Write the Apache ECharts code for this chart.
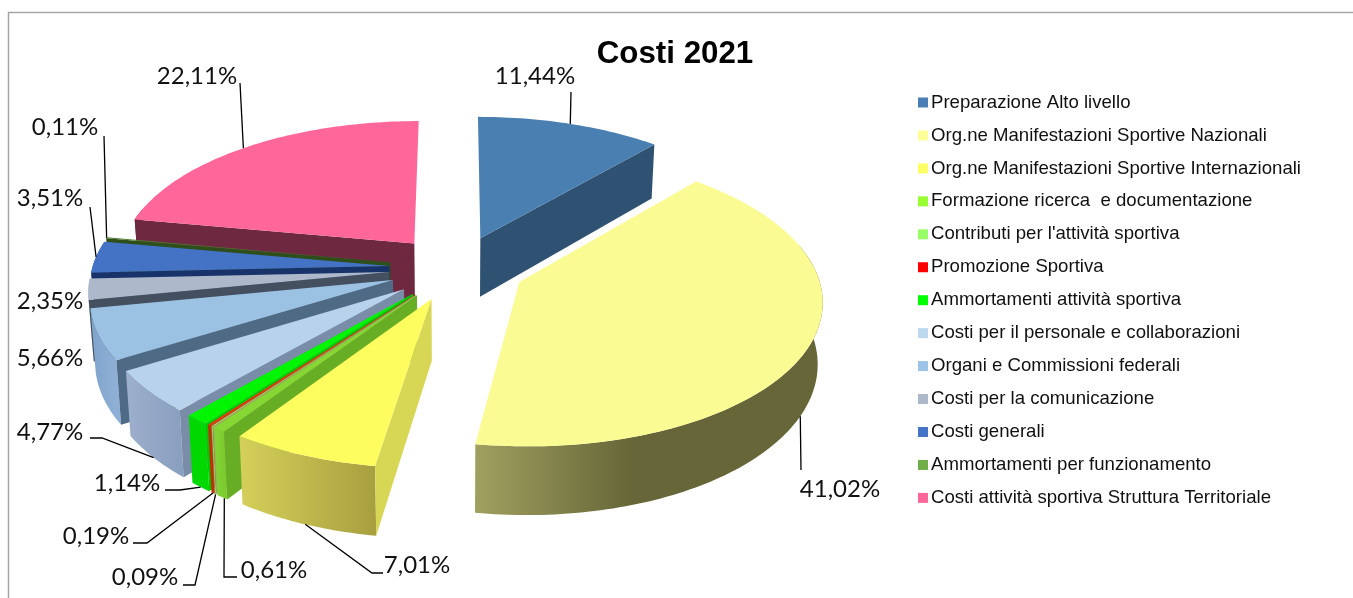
<!DOCTYPE html>
<html>
<head>
<meta charset="utf-8">
<title>Costi 2021</title>
<script src="https://cdn.jsdelivr.net/npm/echarts@6/dist/echarts.min.js"></script>
<style>
  html, body { margin: 0; padding: 0; background: #fff; }
  #main { width: 1353px; height: 598px; }
</style>
</head>
<body>
<div id="main"></div>
<script>
const categories = [
  'Preparazione Alto livello',
  'Org.ne Manifestazioni Sportive Nazionali',
  'Org.ne Manifestazioni Sportive Internazionali',
  'Formazione ricerca  e documentazione',
  "Contributi per l'attività sportiva",
  'Promozione Sportiva',
  'Ammortamenti attività sportiva',
  'Costi per il personale e collaborazioni',
  'Organi e Commissioni federali',
  'Costi per la comunicazione',
  'Costi generali',
  'Ammortamenti per funzionamento',
  'Costi attività sportiva Struttura Territoriale'
]
const values = [11.44, 41.02, 7.01, 0.61, 0.09, 0.19, 1.14, 4.77, 5.66, 2.35, 3.51, 0.11, 22.11]
const valueLabels = ['11,44%', '41,02%', '7,01%', '0,61%', '0,09%', '0,19%', '1,14%', '4,77%', '5,66%', '2,35%', '3,51%', '0,11%', '22,11%']

// colori: legenda, faccia sopra, parete radiale, bordo esterno (sinistra -> destra)
const legendColors = ['#4A7FB5', '#FFFF99', '#FFFF66', '#99FF33', '#99FF66', '#FF0000', '#00FF00', '#BDD7EE', '#9DC3E6', '#ADB9CA', '#4472C4', '#70AD47', '#FF6699']
const topColors = ['#4A7FB2', '#FBFB93', '#FDFD60', '#86D634', '#B5D888', '#E03A10', '#00F500', '#B7D2EA', '#9BC1E3', '#ADB9CA', '#4472C4', '#4F7A30', '#FF6699']
const wallColors = ['#2F5273', '#666638', '#D8D755', '#68AE24', '#8FB060', '#B03000', '#00C800', '#7A8DA8', '#4E6A85', '#44505F', '#17336A', '#2E4E1C', '#6E2840']
const rimLeft = ['#2F5273', '#A0A060', '#D5D05A', '#84D436', '#A0C070', '#C03000', '#00D800', '#9DB0CC', '#7FA3CC', '#B4BECC', '#3A66B4', '#4F7A30', '#6E2840']
const rimRight = ['#2F5273', '#666638', '#A8A03F', '#7CCC30', '#A0C070', '#C03000', '#00D800', '#8AA0C0', '#8FB0D6', '#A8B4C4', '#3A66B4', '#4F7A30', '#6E2840']

// posizione etichette e gomiti delle linee guida (null = senza linea)
const labelAt = [[535, 76], [840, 489], [417, 565], [274, 570], [145, 577], [96, 536], [127, 483], [50, 432], [50, 358], [50, 301], [50, 198], [65, 127], [197, 76]]
const labelElbows = [
  [[571, 92]],
  [[801, 470]],
  [[372, 573], [383, 573]],
  [[224, 577], [237, 577]],
  [[195, 585], [183, 585]],
  [[147, 543], [133, 543]],
  [[180, 490], [165, 490]],
  [[102, 438], [90, 438]],
  null,
  null,
  [[90, 207]],
  [[104, 136]],
  [[240, 83]]
]
// dove parte la linea: 1 = piede della parete, 0 = bordo superiore
const labelFoot = [0, 1, 1, 1, 1, 1, 1, 1, 0, 0, 0, 0, 0]
// punto del bordo toccato dalla linea, in frazione della fetta
const labelHit = [0.5, 0.515, 0.5, 0.3, 0.5, 0.5, 0.5, 0.5, 0.5, 0.5, 0.5, 0.5, 0.49]

const CX = 457, CY = 268, R = 297, EXPLODE = 68, TILT = 0.478, PERSP = 0.00039, DEPTH = 60, CONVERGE = 0.00023
const RIM_FROM = 75 * Math.PI / 180, RIM_TO = 285 * Math.PI / 180

const total = values.reduce((a, b) => a + b, 0)
let cum = 0
const slices = values.map(v => {
  let a0 = cum / total * Math.PI * 2
  cum += v
  let a1 = cum / total * Math.PI * 2
  return { a0, a1, mid: (a0 + a1) / 2 }
})

// piano del disco -> schermo, z = quota sotto la faccia superiore
function project(x, y, z) {
  let s = 1 / (1 - PERSP * y)
  z = z || 0
  return [CX + x * s * (1 - CONVERGE * z), CY + TILT * y * s + z * s]
}
function apexOf(sl) {
  return [EXPLODE * Math.sin(sl.mid), -EXPLODE * Math.cos(sl.mid)]
}
function rimPoint(sl, a, z) {
  let ap = apexOf(sl)
  return project(ap[0] + R * Math.sin(a), ap[1] - R * Math.cos(a), z)
}
function arc(sl, from, to, z) {
  let n = Math.max(2, Math.ceil((to - from) / 0.02))
  let pts = []
  for (let i = 0; i <= n; i++) {
    pts.push(rimPoint(sl, from + (to - from) * i / n, z))
  }
  return pts
}
function side(a, b, p) {
  return (b[0] - a[0]) * (p[1] - a[1]) - (b[1] - a[1]) * (p[0] - a[0])
}

function renderSlice(i) {
  let sl = slices[i]
  let ap = apexOf(sl)
  let a = project(ap[0], ap[1], 0)
  let aBot = project(ap[0], ap[1], DEPTH)
  let top = arc(sl, sl.a0, sl.a1, 0)
  let bot = arc(sl, sl.a0, sl.a1, DEPTH)
  let midP = rimPoint(sl, sl.mid, 0)
  let children = []

  // parete esterna, solo la parte davanti
  let from = Math.max(sl.a0, RIM_FROM), to = Math.min(sl.a1, RIM_TO)
  if (to > from) {
    let xs = top.map(p => p[0])
    let minX = Math.min.apply(null, xs), maxX = Math.max.apply(null, xs)
    children.push({
      type: 'polygon',
      shape: { points: arc(sl, from, to, 0).concat(arc(sl, from, to, DEPTH).reverse()) },
      style: {
        fill: new echarts.graphic.LinearGradient(minX, 0, maxX, 0, [
          { offset: 0, color: rimLeft[i] },
          { offset: i === 1 ? 0.45 : 1, color: rimRight[i] },
          { offset: 1, color: rimRight[i] }
        ], true)
      }
    })
  }

  // pareti radiali, solo quelle rivolte verso chi guarda
  ;[[top[0], bot[0]], [top[top.length - 1], bot[bot.length - 1]]].forEach(e => {
    let sM = side(a, e[0], midP)
    let sD = side(a, e[0], [e[0][0], e[0][1] + 10])
    let nearVertical = Math.abs(e[0][0] - a[0]) < 0.04 * Math.abs(e[0][1] - a[1])
    if (sM * sD < 0 && !nearVertical) {
      children.push({
        type: 'polygon',
        shape: { points: [a, e[0], e[1], aBot] },
        style: { fill: wallColors[i] }
      })
    }
  })

  // faccia superiore
  children.push({
    type: 'polygon',
    shape: { points: [a].concat(top) },
    style: { fill: topColors[i] }
  })
  return { type: 'group', children }
}

function renderLabel(i) {
  let children = []
  let elbows = labelElbows[i]
  if (elbows) {
    let sl = slices[i]
    let start = rimPoint(sl, sl.a0 + (sl.a1 - sl.a0) * labelHit[i], labelFoot[i] ? DEPTH : 0)
    children.push({
      type: 'polyline',
      shape: { points: [start].concat(elbows) },
      style: { fill: 'none', stroke: '#000', lineWidth: 1.3 }
    })
  }
  children.push({
    type: 'text',
    style: {
      text: valueLabels[i],
      x: labelAt[i][0],
      y: labelAt[i][1],
      align: 'center',
      verticalAlign: 'middle',
      font: '24px Lato',
      fill: '#111'
    }
  })
  return { type: 'group', children }
}

// dal fondo verso chi guarda
const drawOrder = values.map((v, i) => i).sort((p, q) => Math.cos(slices[q].mid) - Math.cos(slices[p].mid))

const series = drawOrder.map(i => ({
  type: 'custom',
  name: categories[i],
  coordinateSystem: 'none',
  silent: true,
  animation: false,
  itemStyle: { color: legendColors[i] },
  data: [values[i]],
  renderItem: () => renderSlice(i)
}))

series.push({
  type: 'custom',
  name: 'etichette',
  coordinateSystem: 'none',
  silent: true,
  animation: false,
  data: values,
  renderItem: params => renderLabel(params.dataIndex)
})

const chart = echarts.init(document.getElementById('main'), null, { renderer: 'canvas' })
chart.setOption({
  animation: false,
  backgroundColor: '#fff',
  title: {
    text: 'Costi 2021',
    left: 670,
    top: 34,
    textAlign: 'center',
    textStyle: { fontFamily: 'Liberation Sans', fontSize: 31.3, fontWeight: 'bold', color: '#000' }
  },
  legend: {
    data: categories,
    orient: 'vertical',
    left: 918,
    top: 93,
    padding: 0,
    itemWidth: 10,
    itemHeight: 10,
    itemGap: 13.95,
    icon: 'rect',
    selectedMode: false,
    textStyle: { fontFamily: 'Liberation Sans', fontSize: 18.6, color: '#111', lineHeight: 18.3, padding: [0, 0, 0, -2] }
  },
  graphic: [{
    type: 'rect',
    silent: true,
    shape: { x: 8.5, y: 12.5, width: 1500, height: 800 },
    style: { fill: 'none', stroke: '#A6A6A6', lineWidth: 1.5 }
  }],
  series
})
</script>
</body>
</html>
